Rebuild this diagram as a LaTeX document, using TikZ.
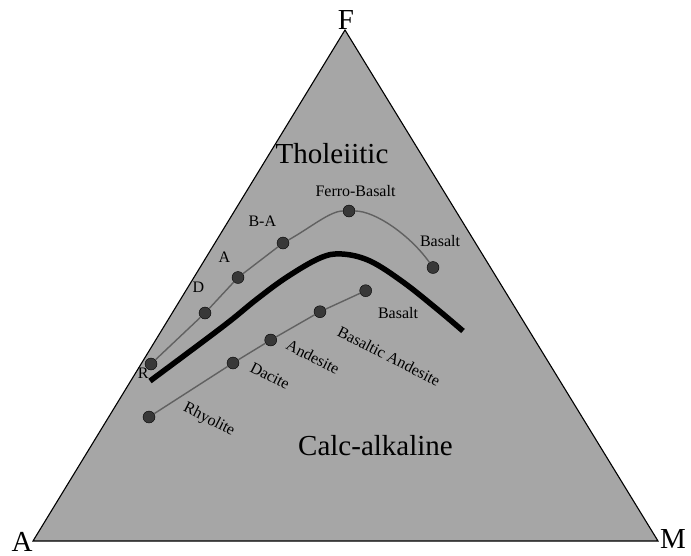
\documentclass[tikz,border=0pt]{standalone}
\usepackage{fontspec}
\setmainfont{Liberation Serif}
\usetikzlibrary{positioning}

\begin{document}
\begin{tikzpicture}[x=1pt, y=-1pt,
        dot/.style={circle, draw=black, fill=black!78, minimum size=12pt, inner sep=0pt},
        trend/.style={draw=black!62, line width=1.4pt},
        corner/.style={anchor=base, font=\fontsize{29}{32}\selectfont},
        series/.style={font=\fontsize{29}{32}\selectfont},
        rock/.style={anchor=base, font=\fontsize{16}{18}\selectfont},
        rockrot/.style={rotate=-27, font=\fontsize{16}{18}\selectfont}]
        \useasboundingbox[fill=white] (0,0) rectangle (691,555);
        % ternary field
        \draw[fill=black!35, line width=1.1pt] (345,30) -- (33,541) -- (658,541) -- cycle;
        \node[corner] (f) at (346,29.5) {F};
        \node[corner] (a) at (22,551.5) {A};
        \node[corner] (m) at (673,548) {M};
        \node[series, anchor=base] (thol) at (332,163) {Tholeiitic};
        \node[series, anchor=base] (calc) at (375.5,455) {Calc-alkaline};
        % tholeiitic trend
        \node[dot] (tr) at (151,364) {};
        \node[dot] (td) at (205,313) {};
        \node[dot] (ta) at (238,277.5) {};
        \node[dot] (tba) at (283,243) {};
        \node[dot] (tfb) at (349,211) {};
        \node[dot] (tb) at (433,267.5) {};
        \node[rock] at (143.3,378.3) {R};
        \node[rock] at (198.3,292) {D};
        \node[rock] at (224.5,262) {A};
        \node[rock] at (262.3,226.7) {B-A};
        \node[rock] at (355.5,196.7) {Ferro-Basalt};
        \node[rock] at (440,246.7) {Basalt};
        \draw[trend] (tr) -- (td) -- (ta) -- (tba)
            .. controls (310,228) and (330,211) .. (tfb)
            .. controls (375,211) and (410,235) .. (tb);
        % calc-alkaline trend
        \node[dot] (cr) at (149,417) {};
        \node[dot] (cd) at (233,363) {};
        \node[dot] (ca) at (270.7,340) {};
        \node[dot] (cba) at (320,311.7) {};
        \node[dot] (cb) at (365.7,290.7) {};
        \node[rockrot] at (209,420) {Rhyolite};
        \node[rockrot] at (270,376) {Dacite};
        \node[rockrot] at (313,357) {Andesite};
        \node[rockrot] at (389,356) {Basaltic Andesite};
        \node[rock] at (398,318) {Basalt};
        \draw[trend] (cr) -- (cd) -- (ca) -- (cba) -- (cb);
        % dividing line
        \draw[line width=5.5pt] plot[smooth, tension=0.6] coordinates {(150,381) (197,346) (230,321) (257,299) (287,277) (320,258) (342,254) (370,261) (403,282) (437,309) (463,331)};
    \end{tikzpicture}
\end{document}
